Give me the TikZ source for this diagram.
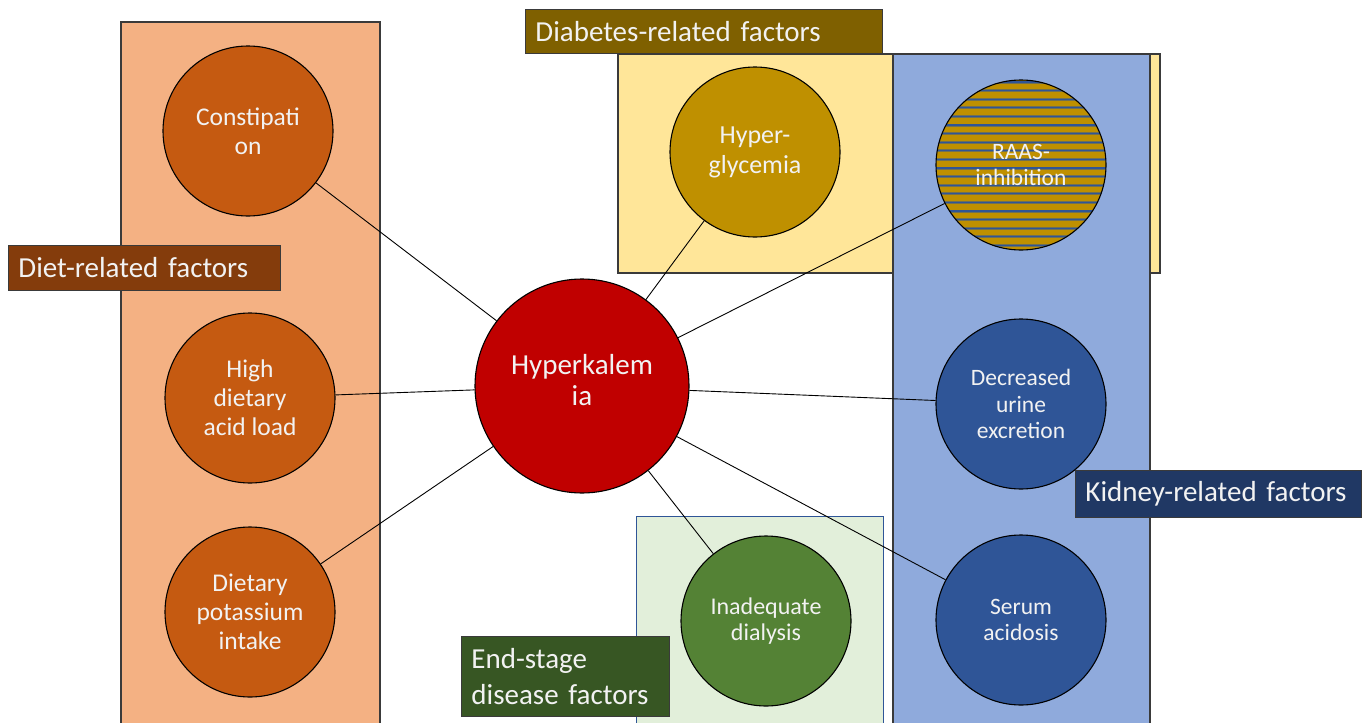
\documentclass[tikz,border=0pt]{standalone}
\usepackage{fontspec}
\setmainfont{Carlito}
\definecolor{dietbg}{HTML}{F4B183}
\definecolor{dietlbl}{HTML}{843C0C}
\definecolor{dietc}{HTML}{C55A11}
\definecolor{diabbg}{HTML}{FFE699}
\definecolor{diablbl}{HTML}{7F6000}
\definecolor{diabc}{HTML}{BF9000}
\definecolor{kidbg}{HTML}{8FAADC}
\definecolor{kidlbl}{HTML}{203864}
\definecolor{kidc}{HTML}{2F5597}
\definecolor{esrdbg}{HTML}{E2EFDA}
\definecolor{esrdlbl}{HTML}{375623}
\definecolor{esrdc}{HTML}{548235}
\definecolor{hyperc}{HTML}{C00000}
\definecolor{txt}{HTML}{F2F2F2}
\definecolor{edge}{HTML}{3A3A3A}
\tikzset{
  region/.style={draw=edge, line width=1.3pt},
  factor/.style={circle, draw=black, line width=1.1pt, minimum size=170pt, inner sep=0pt,
    align=center, text=txt},
  dietfont/.style={font=\fontsize{25.5}{29}\selectfont},
  kidfont/.style={font=\fontsize{23.5}{26.5}\selectfont},
  groupbox/.style={draw=edge, line width=0.9pt, anchor=north west, inner xsep=10pt, inner ysep=0pt,
    align=left, text=txt, font=\fontsize{29}{36.5}\selectfont},
  link/.style={draw=black, line width=0.9pt}
}
\begin{document}
\begin{tikzpicture}[x=1pt,y=-1pt]
\useasboundingbox (0,0) rectangle (1366,723);
\fill[white] (0,0) rectangle (1366,723);

% group regions
\path[region, fill=dietbg] (121,22) rectangle (380,740);
\path[region, fill=diabbg] (618,54) rectangle (1160,273);
\path[region, fill=kidbg] (893,54) rectangle (1150,740);
\path[draw=kidc, line width=0.8pt, fill=esrdbg] (636,516) rectangle (883,740);

% central condition
\node[factor, fill=hyperc, minimum size=214pt] (hk) at (582,386) {};
\node[text=txt, align=center, inner sep=0pt, font=\fontsize{29}{31}\selectfont] (hktext) at (582,380) {Hyperkalem\\ia};

% diet-related factors
\node[factor, dietfont, fill=dietc] (const) at (248,131) {Constipati\\on};
\node[factor, dietfont, fill=dietc] (acid) at (250,398) {High\\dietary\\acid load};
\node[factor, dietfont, fill=dietc] (potas) at (250,612) {Dietary\\potassium\\intake};

% diabetes-related factor
\node[factor, fill=diabc, font=\fontsize{26}{30}\selectfont] (glyc) at (755,152) {Hyper-\\glycemia};

% RAAS inhibition: striped fill
\begin{scope}
  \clip (1021,165) circle (85);
  \fill[diabc] (1021,165) circle (85);
  \foreach \k in {0,...,20} {
    \draw[line width=3pt, color=diabc!45!kidc] (930,{80+8.6*\k+2}) -- (1110,{80+8.6*\k+2});
    \draw[line width=1.3pt, color=kidc] (930,{80+8.6*\k+2}) -- (1110,{80+8.6*\k+2});
  }
\end{scope}
\node[factor, kidfont, fill=none] (raas) at (1021,165) {RAAS-\\inhibition};

% kidney-related factors
\node[factor, kidfont, fill=kidc] (urine) at (1021,404) {Decreased\\urine\\excretion};
\node[factor, kidfont, fill=kidc] (acidos) at (1021,620) {Serum\\acidosis};

% end-stage disease factor
\node[factor, fill=esrdc, font=\fontsize{24}{26.5}\selectfont] (dial) at (766,621) {Inadequate\\dialysis};

% connectors
\draw[link] (hk) -- (const);
\draw[link] (hk) -- (acid);
\draw[link] (hk) -- (potas);
\draw[link] (hk) -- (glyc);
\draw[link] (hk) -- (raas);
\draw[link] (hk) -- (urine);
\draw[link] (hk) -- (acidos);
\draw[link] (hk) -- (dial);

% group labels
\node[groupbox, fill=dietlbl, minimum width=272pt, minimum height=45pt, text width=252pt] (ldiet) at (8,245) {Diet-related factors};
\node[groupbox, fill=diablbl, minimum width=357pt, minimum height=44pt, text width=337pt] (ldiab) at (525,9) {Diabetes-related factors};
\node[groupbox, fill=kidlbl, minimum width=286pt, minimum height=47pt, text width=266pt] (lkid) at (1075,470) {Kidney-related factors};
\node[groupbox, fill=esrdlbl, minimum width=208pt, minimum height=80pt, text width=188pt] (lesrd) at (461,636) {End-stage\\disease factors};
\end{tikzpicture}
\end{document}
